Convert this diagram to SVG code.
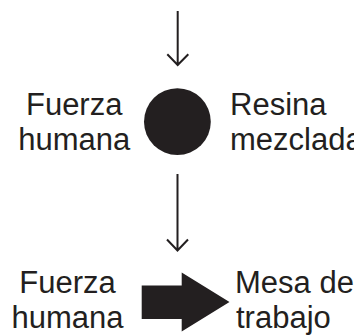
<svg xmlns="http://www.w3.org/2000/svg" width="354" height="336" viewBox="0 0 354 336">
<style>
.t{font-family:"Liberation Sans",Arial,Helvetica,sans-serif;font-size:31px;fill:#231f20}
.m{text-anchor:middle}
.c{stroke:#231f20;stroke-width:2;fill:none}
</style>
<rect width="354" height="336" fill="#ffffff"/>
<g id="connectors">
<path class="c" d="M177.7 11V65M167.3 54.3L177.7 65L188.3 54.3"/>
<path class="c" d="M177.5 174V250.5M167 239.5L177.5 250.5L188 239.5"/>
</g>
<g id="node-fuerza-1"><text class="t m" x="74.2" y="115">Fuerza</text><text class="t m" x="74.2" y="150">humana</text></g>
<g id="node-circle"><circle cx="177.4" cy="121.7" r="33.4" fill="#231f20"/></g>
<g id="node-resina"><text class="t" x="230" y="115">Resina</text><text class="t" x="230" y="150">mezclada</text></g>
<g id="node-fuerza-2"><text class="t m" x="67.5" y="293.3">Fuerza</text><text class="t m" x="67.5" y="328.3">humana</text></g>
<g id="node-block-arrow"><polygon points="141.7,285.5 181.7,285.5 181.7,272.5 229.5,302 181.7,331.5 181.7,319 141.7,319" fill="#231f20"/></g>
<g id="node-mesa"><text class="t" x="235" y="293.3">Mesa de</text><text class="t" x="236" y="328.3">trabajo</text></g>
</svg>
